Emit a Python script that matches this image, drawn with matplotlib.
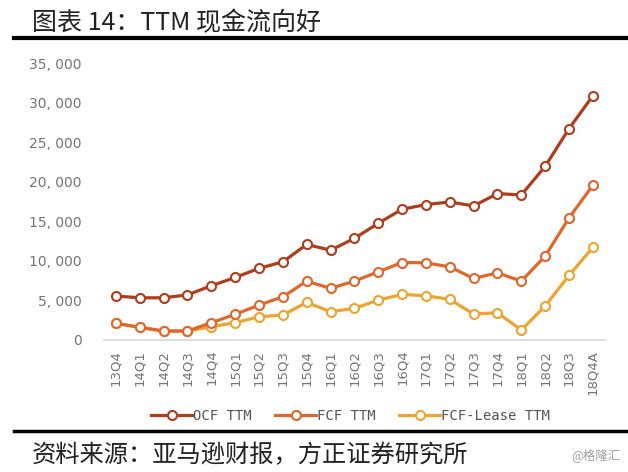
import matplotlib
matplotlib.use('Agg')
import matplotlib.pyplot as plt
from matplotlib.lines import Line2D
from matplotlib.ticker import FuncFormatter

plt.rcParams['font.family'] = ['Noto Sans CJK SC', 'DejaVu Sans']

# Data
quarters = ['13Q4', '14Q1', '14Q2', '14Q3', '14Q4', '15Q1', '15Q2', '15Q3', '15Q4',
            '16Q1', '16Q2', '16Q3', '16Q4', '17Q1', '17Q2', '17Q3', '17Q4',
            '18Q1', '18Q2', '18Q3', '18Q4A']
ocf_ttm = [5550, 5330, 5330, 5700, 6850, 7900, 9050, 9870, 12070,
           11350, 12830, 14750, 16520, 17110, 17440, 16940, 18500,
           18330, 21940, 26700, 30860]
fcf_ttm = [2100, 1600, 1130, 1130, 2180, 3240, 4410, 5460, 7440,
           6520, 7440, 8610, 9790, 9750, 9240, 7780, 8490,
           7440, 10590, 15420, 19550]
fcf_lease_ttm = [2100, 1600, 1130, 1130, 1680, 2180, 2940, 3150, 4750,
                 3570, 4000, 5040, 5760, 5590, 5130, 3280, 3440,
                 1260, 4290, 8160, 11690]

series = [('OCF TTM', ocf_ttm, '#AD3D1C'),
          ('FCF TTM', fcf_ttm, '#E0662A'),
          ('FCF-Lease TTM', fcf_lease_ttm, '#EDA431')]

fig = plt.figure(figsize=(6.28, 4.72), dpi=100)
ax = fig.add_axes([0.1656, 0.2797, 0.7974, 0.5868])

x = list(range(len(quarters)))
# draw lightest first so OCF sits on top
for label, vals, col in series[::-1]:
    ax.plot(x, vals, color=col, lw=2.3, marker='o', ms=6.5,
            mfc='white', mec=col, mew=1.5, label=label)

handles = []
for label, vals, col in series:
    handles.append(Line2D([0], [0], color=col, lw=2.3, marker='o', ms=6.5,
                          mfc='white', mec=col, mew=1.5, label=label))

ax.set_xlim(-0.5, len(quarters) - 0.5)
ax.set_ylim(0, 35000)
ax.set_yticks(range(0, 35001, 5000))
ax.yaxis.set_major_formatter(FuncFormatter(lambda v, p: '{:,}'.format(int(v)).replace(',', ', ')))
ax.set_xticks(x)
ax.set_xticklabels(quarters, rotation=90, fontsize=9.5, color='#747474', family='DejaVu Sans')
for t in ax.get_yticklabels():
    t.set_fontsize(10)
    t.set_color('#747474')
    t.set_family('DejaVu Sans')
ax.tick_params(axis='both', length=0)
ax.tick_params(axis='y', pad=16)
ax.tick_params(axis='x', pad=7)

for s in ['top', 'right', 'left']:
    ax.spines[s].set_visible(False)
ax.spines['bottom'].set_color('#d9d9d9')
ax.spines['bottom'].set_linewidth(1.2)

leg = fig.legend(handles=handles, loc='center', bbox_to_anchor=(0.558, 0.119), ncol=3,
                 frameon=False, handlelength=3, columnspacing=1.65,
                 handletextpad=0.05, prop={'family': 'DejaVu Sans Mono', 'size': 10})
for t in leg.get_texts():
    t.set_color('#555555')

# Title and rules
fig.text(0.051, 0.951, '图表 14：TTM 现金流向好', fontsize=18,
         va='center', ha='left', color='#222222')
fig.add_artist(Line2D([0.022, 0.997], [0.9195, 0.9195], color='black', lw=3))
fig.add_artist(Line2D([0.022, 0.997], [0.0869, 0.0869], color='black', lw=2.5))

fig.text(0.051, 0.036, '资料来源：亚马逊财报，方正证券研究所', fontsize=17.5,
         va='center', ha='left', color='#222222', style='italic')
fig.text(0.988, 0.036, '@格隆汇', fontsize=9, va='center', ha='right', color='#a0a0a0')

fig.savefig('out.png', dpi=100)
